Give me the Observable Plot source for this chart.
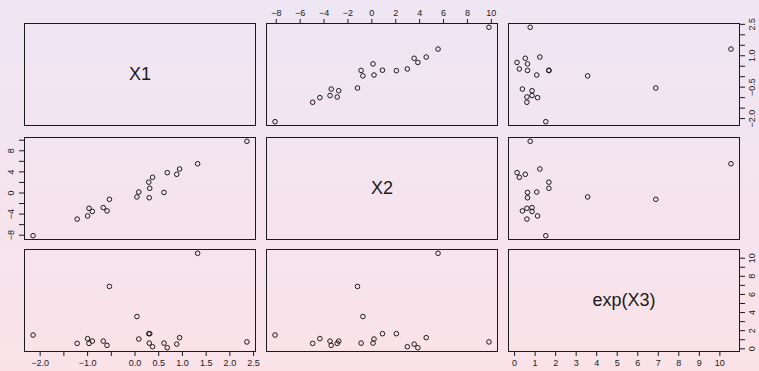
<!DOCTYPE html>
<html><head><meta charset="utf-8">
<script src="https://cdn.jsdelivr.net/npm/d3@7"></script>
<script src="https://cdn.jsdelivr.net/npm/@observablehq/plot@0.6"></script>
<style>
html,body{margin:0;padding:0;}
#chart{position:relative;width:759px;height:371px;background:linear-gradient(to bottom,#eee6f4,#fae2e8);overflow:hidden;}
#chart svg{position:absolute;background:transparent !important;overflow:visible;max-width:none;}
</style></head><body><div id="chart"></div>
<script>
// variable names (diagonal labels)
const varNames = ["X1", "X2", "exp(X3)"];
// observations (20 points)
const x1  = [-2.15, -1.22, -1.00, -0.97, -0.90, -0.67, -0.59, -0.54, 0.04, 0.08, 0.29, 0.31, 0.30, 0.37, 0.61, 0.68, 0.88, 0.94, 1.32, 2.36];
const x2  = [-8.1, -4.95, -4.35, -2.9, -3.5, -2.77, -3.4, -1.2, -0.75, 0.18, 2.05, 0.89, -0.9, 2.97, 0.1, 3.85, 3.54, 4.55, 5.54, 9.8];
const ex3 = [1.52, 0.60, 1.12, 0.60, 0.85, 0.85, 0.38, 6.88, 3.56, 1.08, 1.67, 1.67, 0.63, 0.23, 0.63, 0.12, 0.52, 1.23, 10.54, 0.76];
// ticks and tick labels
const x1Ticks = [-2, -1.5, -1, -0.5, 0, 0.5, 1, 1.5, 2, 2.5];
const x1BottomLabels = [-2, -1, 0, 0.5, 1, 1.5, 2, 2.5];
const x1RightLabels = [-2, -0.5, 1, 2.5];
const x2Ticks = [-8, -6, -4, -2, 0, 2, 4, 6, 8, 10];
const x2TopLabels = [-8, -6, -4, -2, 0, 2, 4, 6, 8, 10];
const x2LeftLabels = [-8, -4, 0, 4, 8];
const e3Ticks = [0, 1, 2, 3, 4, 5, 6, 7, 8, 9, 10];
const e3BottomLabels = [0, 1, 2, 3, 4, 5, 6, 7, 8, 9, 10];
const e3RightLabels = [0, 2, 4, 6, 8, 10];

const vars = [x1, x2, ex3];
const ticks = [x1Ticks, x2Ticks, e3Ticks];
const horizLabels = [x1BottomLabels, x2TopLabels, e3BottomLabels];
const vertLabels = [x1RightLabels, x2LeftLabels, e3RightLabels];
const minus = s => s.replace("-", "\u2212");
const fmts = [d => minus(d.toFixed(1)), d => minus(String(d)), d => String(d)];

const colLeft = [24, 266, 508], rowTop = [23, 137, 249], PW = 231, PH = 102, M = 30;
const FONT = "'Liberation Sans', Arial, Helvetica, sans-serif";
const INK = "#1a1a1a";
const AX = 9;
function ext(v) { const [a, b] = d3.extent(v); const p = (b - a) * 0.04; return [a - p, b + p]; }

const chart = document.getElementById("chart");
for (let i = 0; i < 3; i++) {
  for (let j = 0; j < 3; j++) {
    const marks = [Plot.frame({stroke: INK, strokeWidth: 1})];
    if (i === j) {
      marks.push(Plot.text([varNames[i]], {frameAnchor: "middle", text: d => d, fontSize: 18, fill: INK}));
    } else {
      const data = vars[0].map((_, k) => ({x: vars[j][k], y: vars[i][k]}));
      marks.push(Plot.dot(data, {x: "x", y: "y", r: 2.3, stroke: INK, strokeWidth: 1, fill: "none"}));
    }
    // R pairs axis placement
    if (i === 0 && j % 2 === 1) {
      const lab = horizLabels[j];
      marks.push(Plot.axisX({anchor: "top", label: null, ticks: ticks[j], tickSize: 5, tickPadding: 3, fontSize: AX, stroke: INK, fill: INK,
        tickFormat: d => lab.includes(d) ? fmts[j](d) : ""}));
    }
    if (i === 2 && j % 2 === 0) {
      const lab = horizLabels[j];
      marks.push(Plot.axisX({anchor: "bottom", label: null, ticks: ticks[j], tickSize: 5, tickPadding: 3, fontSize: AX, stroke: INK, fill: INK,
        tickFormat: d => lab.includes(d) ? fmts[j](d) : ""}));
    }
    if (j === 0 && i % 2 === 1) {
      marks.push(Plot.axisY({anchor: "left", label: null, ticks: ticks[i], tickSize: 5, stroke: INK, tickFormat: () => ""}));
      marks.push(Plot.text(vertLabels[i], {y: d => d, text: fmts[i], frameAnchor: "left", dx: -13, rotate: -90,
        textAnchor: "middle", lineAnchor: "middle", fontSize: AX, fill: INK}));
    }
    if (j === 2 && i % 2 === 0) {
      marks.push(Plot.axisY({anchor: "right", label: null, ticks: ticks[i], tickSize: 5, stroke: INK, tickFormat: () => ""}));
      marks.push(Plot.text(vertLabels[i], {y: d => d, text: fmts[i], frameAnchor: "right", dx: 13, rotate: -90,
        textAnchor: "middle", lineAnchor: "middle", fontSize: AX, fill: INK}));
    }
    const svg = Plot.plot({
      width: PW + 2 * M, height: PH + 2 * M,
      marginTop: M, marginBottom: M, marginLeft: M, marginRight: M,
      x: {domain: ext(vars[j]), axis: null},
      y: {domain: ext(vars[i]), axis: null},
      style: {background: "transparent", fontFamily: FONT, color: INK, overflow: "visible"},
      marks
    });
    svg.style.left = (colLeft[j] - M) + "px";
    svg.style.top = (rowTop[i] - M) + "px";
    chart.appendChild(svg);
  }
}
</script></body></html>
